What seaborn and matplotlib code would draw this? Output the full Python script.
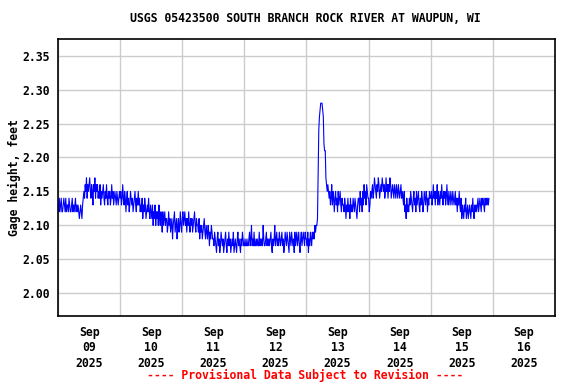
import pandas as pd
import numpy as np
import matplotlib
matplotlib.use("Agg")
import matplotlib.pyplot as plt
import matplotlib.dates as mdates
import seaborn as sns

TITLE  = "USGS 05423500 SOUTH BRANCH ROCK RIVER AT WAUPUN, WI"
YLABEL = "Gage height, feet"
FOOTER = "---- Provisional Data Subject to Revision ----"

START = "2025-09-09 00:00"
YTICKS = [2.00, 2.05, 2.10, 2.15, 2.20, 2.25, 2.30, 2.35]

# 15-minute gage height readings, hundredths of a foot above 2.00 ft
sep09 = [13, 12, 14, 12, 13, 14, 12, 12, 13, 14, 13, 12, 14, 12, 13, 13,
         12, 14, 13, 12, 12, 13, 14, 12, 13, 12, 13, 14, 12, 13, 12, 13,
         12, 11, 12, 13, 12, 11, 13, 14,
         15, 14, 16, 15, 17, 14, 16, 15, 16, 17, 15, 14, 16, 15, 13, 16,
         15, 17, 14, 16, 15, 16, 14, 15,
         14, 16, 13, 15, 14, 15, 16, 14, 13, 15, 14, 16, 14, 13, 15, 14,
         15, 13, 14, 16, 14, 15, 13, 14, 15, 14, 13, 15, 14, 13, 14, 15]
sep10 = [14, 15, 13, 14, 16, 14, 13, 15, 14, 12, 14, 15, 13, 14, 12, 13,
         15, 14, 13, 14, 12, 13, 14, 15, 13, 12, 14, 13, 15, 13, 14, 12,
         13, 12, 14, 11, 13, 12, 14, 13, 11, 12, 13, 12, 14, 12, 11, 13,
         12, 11, 13, 10, 12, 11, 13, 10, 12, 11, 12, 10, 13, 11, 10, 12,
         11, 9, 12, 10, 11, 12, 10, 11,
         11, 9, 10, 12, 10, 11, 9, 10, 11, 8, 10, 11, 12, 9, 10, 11,
         8, 10, 11, 9, 10, 12, 10, 9]
sep11 = [11, 12, 10, 11, 12, 10, 11, 9, 11, 10, 12, 10, 9, 11, 10, 11,
         9, 10, 11, 12, 10, 9, 11, 10,
         10, 9, 11, 8, 10, 9, 10, 8, 9, 10, 11, 9, 8, 10, 9, 8,
         10, 9, 7, 9, 8, 10, 9, 8,
         8, 7, 9, 8, 7, 6, 8, 9, 7, 8, 6, 7, 9, 8, 7, 8,
         6, 7, 8, 9, 7, 6, 8, 7, 9, 7, 8, 6, 7, 8, 7, 9,
         6, 7, 8, 7, 6, 8, 9, 7, 8, 7, 6, 8, 7, 9, 8, 7]
sep12 = [7, 8, 7, 7, 8, 7, 7, 8, 9, 7, 8, 10, 7, 8, 7, 9,
         7, 7, 8, 7, 8, 7, 7, 9, 7, 8, 7, 8, 7, 10, 8, 7,
         7, 8, 9, 7, 8, 7, 8, 7, 8, 9, 7, 6, 8, 7, 8, 10,
         7, 8, 9, 7, 8, 7, 9, 8, 7, 8, 9, 7, 8, 6, 7, 9,
         8, 7, 9, 8, 7, 6, 9, 8, 7, 9, 8, 7, 8, 6, 9, 7,
         8, 9, 7, 8, 9, 7, 6, 8, 9, 7, 8, 9, 8, 7, 9, 8]
sep13 = [8, 7, 9, 6, 8, 7, 9, 8, 7, 9, 8,
         9, 8, 10, 9, 10, 10,
         11, 17, 24, 26, 27, 28, 28, 28, 27, 26, 22, 21, 21, 17, 16, 15, 16,
         15,
         14, 15, 13, 14, 16, 13, 15, 14, 12, 14, 15, 13, 14, 12, 15, 13,
         14, 15, 13, 12, 14, 13,
         13, 12, 14, 13, 11, 13, 12, 14, 12, 13, 11, 14, 12, 13, 12, 14,
         13, 12, 14, 13, 12, 11, 13, 14,
         14, 12, 15, 13, 14, 12, 15, 13, 16, 14, 15, 13, 16, 15, 14]
sep14 = [14, 12, 13, 15, 14,
         15, 16, 14, 15, 17, 16, 15, 14, 16, 15, 17, 16, 14, 15, 16, 15,
         17, 16, 15, 16, 14, 15, 17, 15, 16, 14, 16, 15, 17, 16, 14, 15,
         16, 15, 14, 16, 15, 14, 16, 15, 14, 16, 15, 14, 15, 16, 14, 15,
         14, 13, 15, 12, 13, 11, 14, 12, 13, 12, 14,
         13, 15, 14, 13, 12, 14, 15, 13, 14, 12, 15, 13, 14, 15, 13, 12,
         14, 13, 15, 14, 12, 13, 15, 14, 13, 15, 14, 12, 14, 13, 15, 14]
sep15 = [14, 15, 13, 14, 16, 14, 15, 13, 15, 14, 16, 13, 15, 14, 13, 15,
         14, 16, 14, 13, 15, 14, 15, 13, 14, 16, 14, 13, 15, 14, 13, 15,
         14, 13, 15, 14, 13, 14, 15, 13, 14, 12, 14, 13, 15, 13,
         12, 14, 11, 13, 12, 11, 13, 12, 14, 11, 12, 13, 11, 12, 13, 12,
         11, 13, 12, 14, 12, 11, 13, 12, 13, 12,
         13, 14, 12, 13, 14, 13, 12, 14, 13, 14, 13, 12, 14, 13, 14, 13,
         14, 13, 14]

readings = sep09 + sep10 + sep11 + sep12 + sep13 + sep14 + sep15
df = pd.DataFrame({
    "time": pd.date_range(START, periods=len(readings), freq="15min"),
    "gage": 2.0 + np.array(readings) / 100.0,
})

sns.set_style("white")
plt.rcParams["font.family"] = ["DejaVu Sans Mono"]
plt.rcParams["font.weight"] = "bold"
for key in ["text.color", "axes.labelcolor", "xtick.color", "ytick.color"]:
    plt.rcParams[key] = "black"

fig = plt.figure(figsize=(5.76, 3.84), dpi=100)
ax = fig.add_axes([0.1007, 0.1771, 0.8628, 0.7213])

sns.lineplot(data=df, x="time", y="gage", color="#0000ff", lw=0.8, ax=ax)

ax.set_xlim(pd.Timestamp("2025-09-09"), pd.Timestamp("2025-09-17"))
ax.set_ylim(1.9665, 2.3745)

ax.set_yticks(YTICKS)
ax.set_yticklabels([f"{v:.2f}" for v in YTICKS], fontsize=8.3, fontweight="bold")

ax.xaxis.set_major_locator(mdates.DayLocator())
ax.xaxis.set_major_formatter(plt.NullFormatter())
ax.xaxis.set_minor_locator(mdates.HourLocator(byhour=12))
ax.xaxis.set_minor_formatter(mdates.DateFormatter("%b\n%d\n%Y"))
for lbl in ax.xaxis.get_minorticklabels():
    lbl.set_fontsize(8.3)
    lbl.set_fontweight("bold")
    lbl.set_linespacing(1.25)

ax.tick_params(axis="both", which="both", length=0)
ax.tick_params(axis="y", pad=6)
ax.tick_params(axis="x", which="minor", pad=7)

ax.grid(True, which="major", color="#cccccc", lw=1)
ax.set_axisbelow(True)
for s in ax.spines.values():
    s.set_color("black")
    s.set_linewidth(1.2)

ax.set_xlabel("")
ax.set_ylabel(YLABEL, fontsize=8.3, fontweight="bold", labelpad=1)

fig.text(0.53, 0.951, TITLE, ha="center", va="center", fontsize=8.3, fontweight="bold")
fig.text(0.53, 0.023, FOOTER, ha="center", va="center", fontsize=8.3,
         fontweight="bold", color="red")

fig.savefig("out.png", dpi=100)
